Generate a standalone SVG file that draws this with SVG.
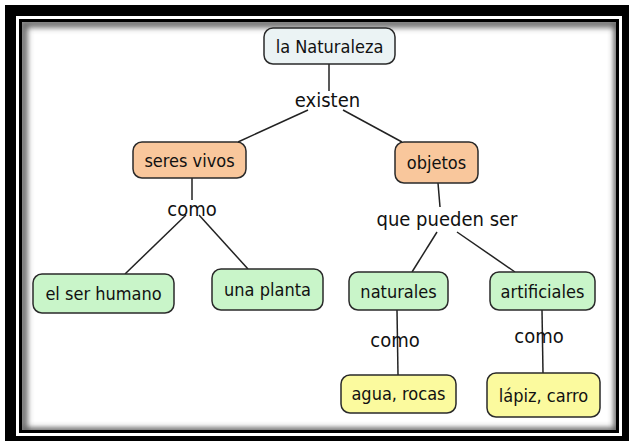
<svg xmlns="http://www.w3.org/2000/svg" width="629" height="445" viewBox="0 0 629 445">
<defs>
<style>
.box{stroke:#2a2a2a;stroke-width:1.5}
.c{font-family:"DejaVu Sans Condensed","DejaVu Sans",Verdana,sans-serif;font-stretch:condensed;font-size:18px;fill:#111;text-anchor:middle}
.l{font-family:"DejaVu Sans Condensed","DejaVu Sans",Verdana,sans-serif;font-stretch:condensed;font-size:20px;fill:#111;text-anchor:middle}
.blue{fill:#ebf3f4}
.peach{fill:#f9c79c}
.green{fill:#c9f5c9}
.yellow{fill:#fbfa9e}
#links line{stroke:#222;stroke-width:1.5}
</style>
<clipPath id="clip"><rect x="22" y="22" width="594" height="408"/></clipPath>
<filter id="blur" x="-10%" y="-10%" width="120%" height="120%"><feGaussianBlur stdDeviation="3"/></filter>
</defs>
<rect width="629" height="445" fill="#fff"/>
<rect x="5" y="5" width="624" height="436" fill="#000"/>
<rect x="16" y="16" width="606" height="420" fill="#fff"/>
<rect x="19" y="19" width="600" height="414" fill="#000"/>
<rect x="22" y="22" width="594" height="408" fill="#fff"/>
<g clip-path="url(#clip)">
<rect x="20" y="20" width="598" height="412" fill="none" stroke="#9a9a9a" stroke-width="6" filter="url(#blur)"/>
<rect x="24" y="24" width="594" height="408" fill="none" stroke="#555" stroke-width="6" filter="url(#blur)"/>
</g>
<g id="links">
<line x1="329" y1="64" x2="329" y2="91"/>
<line x1="308" y1="110" x2="238" y2="142"/>
<line x1="343" y1="110" x2="402" y2="142"/>
<line x1="192" y1="178" x2="192" y2="200"/>
<line x1="186" y1="215" x2="125" y2="274"/>
<line x1="199" y1="215" x2="248" y2="269"/>
<line x1="438" y1="183" x2="440" y2="207"/>
<line x1="437" y1="232" x2="412" y2="272"/>
<line x1="457" y1="232" x2="515" y2="272"/>
<line x1="397" y1="310" x2="398" y2="375"/>
<line x1="542" y1="310" x2="543" y2="373"/>
</g>
<g id="linking-phrases">
<text class="l" x="327.5" y="107">existen</text>
<text class="l" x="192" y="216">como</text>
<text class="l" x="447" y="226">que pueden ser</text>
<text class="l" x="395" y="347">como</text>
<text class="l" x="539" y="343">como</text>
</g>
<g id="n-naturaleza"><rect class="box blue" x="264" y="28" width="131" height="36" rx="9"/><text class="c" x="329.5" y="52.5">la Naturaleza</text></g>
<g id="n-seres-vivos"><rect class="box peach" x="133" y="142" width="113" height="36" rx="9"/><text class="c" x="189.5" y="167">seres vivos</text></g>
<g id="n-objetos"><rect class="box peach" x="395" y="142" width="83" height="41" rx="9"/><text class="c" x="436.5" y="168.5">objetos</text></g>
<g id="n-ser-humano"><rect class="box green" x="33" y="274" width="141" height="39" rx="9"/><text class="c" x="103.5" y="300">el ser humano</text></g>
<g id="n-planta"><rect class="box green" x="212" y="269" width="111" height="41" rx="9"/><text class="c" x="267.5" y="296">una planta</text></g>
<g id="n-naturales"><rect class="box green" x="349" y="272" width="99" height="38" rx="9"/><text class="c" x="398.5" y="298">naturales</text></g>
<g id="n-artificiales"><rect class="box green" x="490" y="272" width="105" height="38" rx="9"/><text class="c" x="542.5" y="298">artificiales</text></g>
<g id="n-agua"><rect class="box yellow" x="341" y="375" width="115" height="38" rx="9"/><text class="c" x="398.5" y="400">agua, rocas</text></g>
<g id="n-lapiz"><rect class="box yellow" x="487" y="373" width="113" height="44" rx="9"/><text class="c" x="543.5" y="402">lápiz, carro</text></g>
</svg>
